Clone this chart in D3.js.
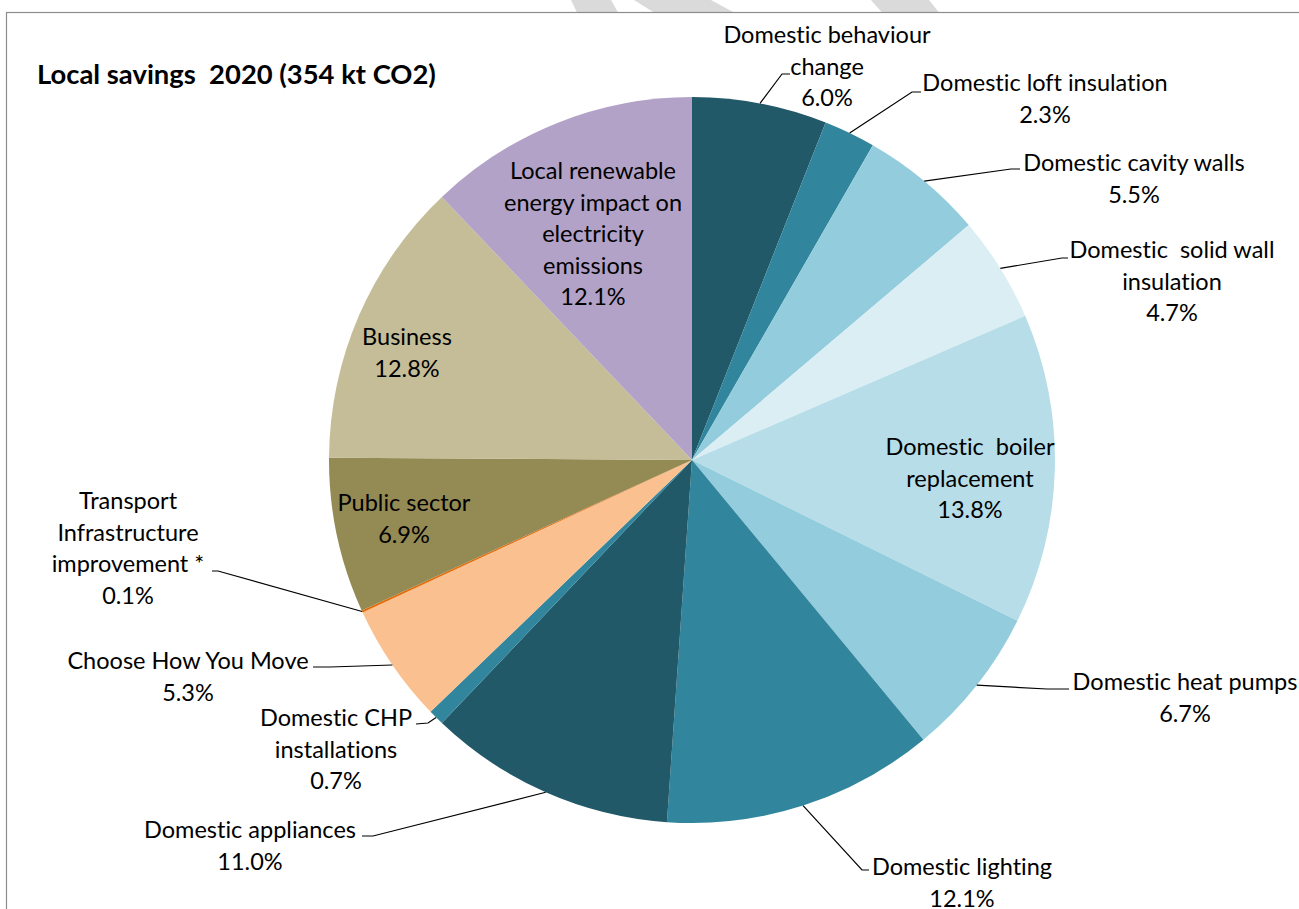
<!DOCTYPE html>
<html>
<head>
<meta charset="utf-8">
<script src="https://cdn.jsdelivr.net/npm/d3@7"></script>
<style>
  html, body { margin: 0; padding: 0; background: #fff; }
  svg { display: block; }
  text { white-space: pre; font-variant-ligatures: none; font-feature-settings: "liga" 0, "clig" 0; }
</style>
</head>
<body>
<svg id="chart" width="1299" height="909"></svg>
<script>
// ---------------- DATA ----------------
const title = "Local savings  2020 (354 kt CO2)";
const categories = [
  "Domestic behaviour\nchange",
  "Domestic loft insulation",
  "Domestic cavity walls",
  "Domestic  solid wall\ninsulation",
  "Domestic  boiler\nreplacement",
  "Domestic heat pumps",
  "Domestic lighting",
  "Domestic appliances",
  "Domestic CHP\ninstallations",
  "Choose How You Move",
  "Transport\nInfrastructure\nimprovement *",
  "Public sector",
  "Business",
  "Local renewable\nenergy impact on\nelectricity\nemissions"
];
const values = [6.0, 2.3, 5.5, 4.7, 13.8, 6.7, 12.1, 11.0, 0.7, 5.3, 0.1, 6.9, 12.8, 12.1];
const colors = ["#215968", "#31859C", "#93CDDD", "#DBEEF4", "#B7DEE8", "#93CDDD", "#31859C",
                "#215968", "#31859C", "#FAC090", "#E46C0A", "#948A54", "#C4BD97", "#B3A2C7"];

// ---------------- LAYOUT ----------------
const W = 1299, H = 909;
const cx = 692, cy = 460, R = 363;
const FONT = "Lato, 'Open Sans', sans-serif";
const lineH = 31.5;
// label text centre x, first baseline y, and leader elbow / end (null = inside label)
const labelLayout = [
  {x: 827,  y: 43,  elbow: [782, 74],  end: [790, 74]},
  {x: 1045, y: 91,  elbow: [912, 92],  end: [921, 92]},
  {x: 1134, y: 171, elbow: [1011, 169], end: [1020, 169]},
  {x: 1172, y: 258, elbow: [1062, 258], end: [1068, 258]},
  {x: 970,  y: 455, elbow: null, end: null},
  {x: 1185, y: 690, elbow: [1047, 689], end: [1069, 689]},
  {x: 962,  y: 875, elbow: [862, 870], end: [869, 870]},
  {x: 250,  y: 838, elbow: [373, 836], end: [362, 836]},
  {x: 336,  y: 726, elbow: [428, 723], end: [416, 724]},
  {x: 188,  y: 669, elbow: [330, 667], end: [313, 667]},
  {x: 128,  y: 509, elbow: [218, 571], end: [212, 571]},
  {x: 404,  y: 511, elbow: null, end: null},
  {x: 407,  y: 345, elbow: null, end: null},
  {x: 593,  y: 179, elbow: null, end: null}
];
// faint watermark fragments above the frame
const decor = [
  [[571, 0], [611, 0], [618, 12.5], [577, 12.5]],
  [[634, 0], [711, 0], [734, 12.5], [654, 12.5]],
  [[871, 0], [929, 0], [939, 12.5], [882, 12.5]]
];

// ---------------- DRAW ----------------
const svg = d3.select("#chart");

// fit font sizes to reference widths
function fitSize(str, target, weight) {
  const p = svg.append("text").style("font-family", FONT).style("font-weight", weight)
    .style("font-size", "100px").text(str);
  const w = p.node().getComputedTextLength();
  p.remove();
  return 100 * target / w;
}
const fs = fitSize("Domestic heat pumps", 225, "normal");
const fsTitle = fitSize(title, 399, "bold");

svg.append("g").selectAll("polygon").data(decor).join("polygon")
  .attr("points", d => d.map(p => p.join(",")).join(" "))
  .attr("fill", "#dadada");

svg.append("rect")
  .attr("x", 6.5).attr("y", 12.5).attr("width", W + 10).attr("height", H + 10)
  .attr("fill", "none").attr("stroke", "#8c8c8c").attr("stroke-width", 1.2);

const pie = d3.pie().sort(null).value(d => d).startAngle(0).endAngle(2 * Math.PI);
const arcs = pie(values);
const arc = d3.arc().innerRadius(0).outerRadius(R);
const edgeArc = d3.arc().innerRadius(R).outerRadius(R);

const g = svg.append("g").attr("transform", `translate(${cx},${cy})`);
g.selectAll("path").data(arcs).join("path")
  .attr("d", arc)
  .attr("fill", (d, i) => colors[i]);

// leader lines
svg.append("g").selectAll("polyline")
  .data(arcs.map((a, i) => ({a, L: labelLayout[i]})).filter(d => d.L.elbow))
  .join("polyline")
  .attr("points", d => {
    const c = edgeArc.centroid(d.a);
    return [[cx + c[0], cy + c[1]], d.L.elbow, d.L.end].map(p => p.join(",")).join(" ");
  })
  .attr("fill", "none").attr("stroke", "#000").attr("stroke-width", 1.2);

// labels
const fmt = d3.format(".1%");
const lg = svg.append("g").style("font-family", FONT).style("font-size", fs + "px").attr("fill", "#000");
arcs.forEach((a, i) => {
  const L = labelLayout[i];
  const lines = categories[i].split("\n").concat([fmt(values[i] / 100)]);
  const t = lg.append("text").attr("text-anchor", "middle");
  lines.forEach((s, k) => {
    t.append("tspan").attr("x", L.x).attr("y", L.y + k * lineH).text(s);
  });
});

svg.append("text")
  .attr("x", 37).attr("y", 84)
  .style("font-family", FONT).style("font-weight", "bold").style("font-size", fsTitle + "px")
  .attr("fill", "#000")
  .text(title);
</script>
</body>
</html>
